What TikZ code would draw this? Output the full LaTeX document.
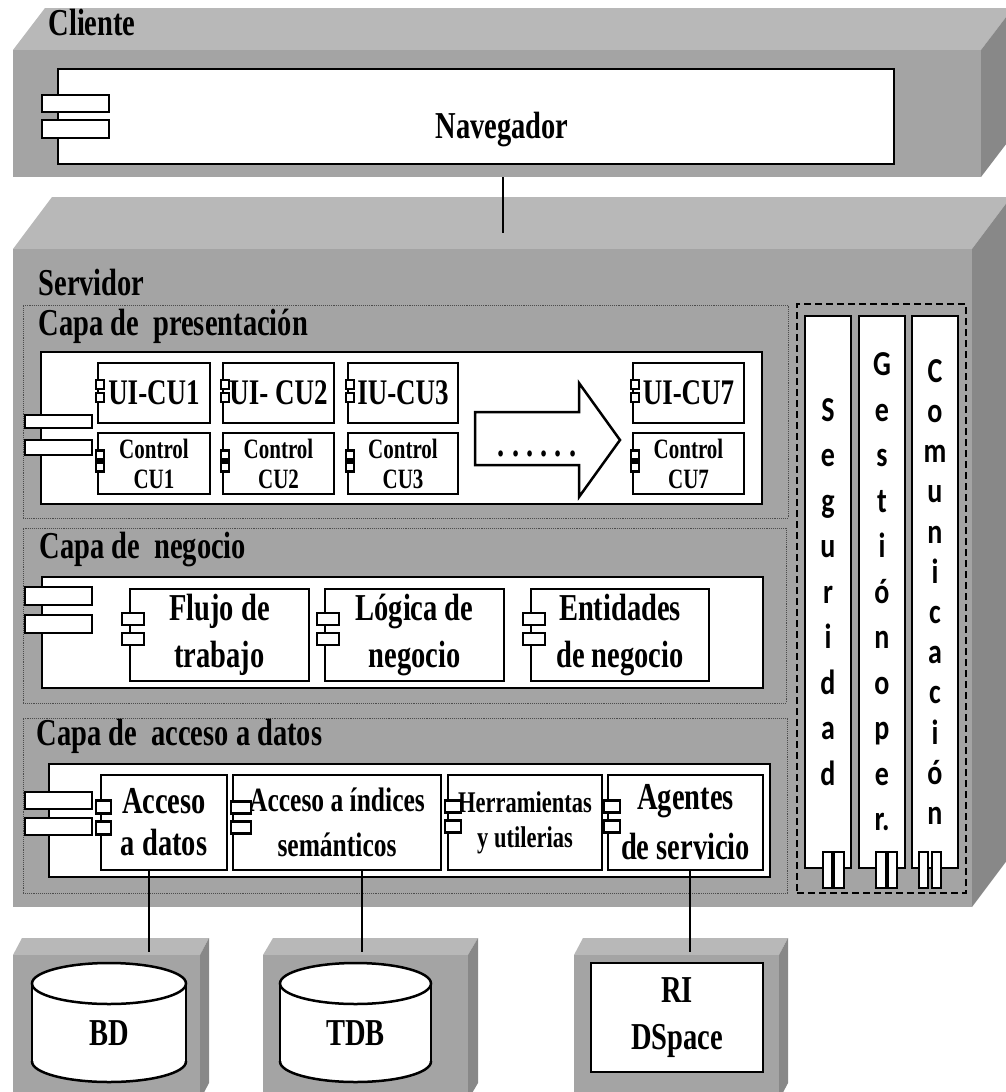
\documentclass[tikz,border=0pt]{standalone}
\usepackage{fontspec}
\usetikzlibrary{calc,fit}
\newfontfamily\tnr[FakeStretch=0.75]{Liberation Serif}
\newfontfamily\clb[FakeStretch=0.8]{Carlito}
\definecolor{frontg}{RGB}{164,164,164}
\definecolor{topg}{RGB}{184,184,184}
\definecolor{sideg}{RGB}{136,136,136}
\tikzset{
  lw/.style={line width=2.5pt},
  front/.style={fill=frontg, inner sep=0pt},
  box/.style={draw, line width=2.5pt, fill=white, inner sep=0pt, align=center},
  icon/.style={draw, line width=2.2pt, fill=white},
  layer/.style={draw=black!70, densely dotted, line width=0.9pt, inner sep=0pt},
  conn/.style={line width=2pt},
  lab/.style 2 args={font=\tnr\bfseries\fontsize{#1}{#2}\selectfont, align=center},
  colt/.style 2 args={font=\clb\bfseries\fontsize{#1}{#2}\selectfont, align=center},
}
% box node from corner coordinates: name x1 y1 x2 y2 style text
\newcommand\cbox[7]{%
  \node[box, #6, minimum width={#4-#2}, minimum height={#5-#3}] (#1) at ({(#2+#4)/2},{(#3+#5)/2}) {#7};
}
\newcommand\blockthreed[7]{% name x1 y1 x2 y2 dx dy
  \fill[topg] (#2,#3) -- ++(#6,-#7) -- ++({#4-#2},0) -- (#4,#3) -- cycle;
  \fill[sideg] (#4,#3) -- ++(#6,-#7) -- ++(0,{#5-#3}) -- (#4,#5) -- cycle;
  \node[front, minimum width={#4-#2}, minimum height={#5-#3}] (#1) at ({(#2+#4)/2},{(#3+#5)/2}) {};
}
\newcommand\smicon[6]{% node w h xoff ytop1 ytop2
  \draw[icon] ($(#1.west)+(#4,#5)$) rectangle ++(#2,#3);
  \draw[icon] ($(#1.west)+(#4,#6)$) rectangle ++(#2,#3);
}
\newcommand\dbcyl[4]{% name cx rx label
  \fill[white] (#2,1061.5) ellipse [x radius=#3, y radius=20.5];
  \fill[white] ({#2-#3},983.5) rectangle ({#2+#3},1061.5);
  \begin{scope}
    \clip ({#2-#3-5},1061.5) rectangle ({#2+#3+5},1091);
    \draw[lw] (#2,1061.5) ellipse [x radius=#3, y radius=20.5];
  \end{scope}
  \draw[lw] ({#2-#3},983.5) -- ({#2-#3},1061.5) ({#2+#3},983.5) -- ({#2+#3},1061.5);
  \draw[lw, fill=white] (#2,983.5) ellipse [x radius=#3, y radius=20.5];
  \node[lab={38}{38}] (#1) at (#2,1033) {#4};
}
\begin{document}
\begin{tikzpicture}[x=1pt,y=-1pt]
\useasboundingbox (0,0) rectangle (1006,1092);
\clip (0,0) rectangle (1006,1092);
\fill[white] (0,0) rectangle (1006,1092);

% ---------------- Cliente
\blockthreed{cliente}{13}{50}{981}{177}{32}{42}
\node[lab={38}{38}, anchor=base west] (clientelab) at (45,35) {Cliente};
\cbox{nav}{58}{69}{894}{164}{}{}
\node[lab={38}{38}] (navlab) at (502,130) {Navegador};
\draw[icon] (42,95) rectangle (109,112);
\draw[icon] (42,120) rectangle (109,138);

% ---------------- Servidor
\blockthreed{servidor}{13}{249}{972}{907}{39}{52}
\node[lab={38}{38}, anchor=base west] (servlab) at (35,295) {Servidor};
\coordinate (srvtop) at (503,233);
\draw[conn] (cliente.south -| srvtop) -- (srvtop);

% ---------------- Capa de presentacion
\node[layer, fit={(23,305) (788,518)}] (lpres) {};
\node[lab={38}{38}, anchor=base west] (lpreslab) at (35,335) {Capa de~ presentación};
\cbox{pres}{41}{352}{762}{504}{}{}
\draw[icon] (25,415) rectangle (92,428);
\draw[icon] (25,440) rectangle (92,455);

\cbox{ui1}{98}{363}{210}{423}{lab={36}{36}}{UI-CU1}
\cbox{ui2}{223}{363}{334}{423}{lab={36}{36}}{UI- CU2}
\cbox{ui3}{348}{363}{458}{423}{lab={36}{36}}{IU-CU3}
\cbox{ui7}{633}{363}{744}{423}{lab={36}{36}}{UI-CU7}
\cbox{c1}{98}{433}{210}{494}{lab={28}{30}}{Control\\CU1}
\cbox{c2}{223}{433}{334}{494}{lab={28}{30}}{Control\\CU2}
\cbox{c3}{348}{433}{458}{494}{lab={28}{30}}{Control\\CU3}
\cbox{c7}{633}{433}{744}{494}{lab={28}{30}}{Control\\CU7}
\smicon{ui1}{8}{9}{-1}{-13}{0}
\smicon{ui2}{8}{9}{-1}{-13}{0}
\smicon{ui3}{8}{9}{-1}{-13}{0}
\smicon{ui7}{8}{9}{-1}{-13}{0}
\smicon{c1}{8}{9}{-1}{-13}{-1}
\smicon{c2}{8}{9}{-1}{-13}{-1}
\smicon{c3}{8}{9}{-1}{-13}{-1}
\smicon{c7}{8}{9}{-1}{-13}{-1}
\draw[lw, fill=white] (475,412) -- (579,412) -- (579,383) -- (620,440) -- (579,497) -- (579,465) -- (475,465) -- cycle;
\node[lab={38}{38}, anchor=base] (dots) at (537,456) {.\ .\ .\ .\ .\ .};

% ---------------- Capa de negocio
\node[layer, fit={(23,528) (786,703)}] (lbiz) {};
\node[lab={38}{38}, anchor=base west] (lbizlab) at (36,558) {Capa de~ negocio};
\cbox{biz}{42}{577}{763}{688}{}{}
\draw[icon] (25,587) rectangle (92,605);
\draw[icon] (25,615) rectangle (92,633);
\cbox{flujo}{130}{589}{309}{681}{lab={38}{47}}{Flujo de\\trabajo}
\cbox{logica}{325}{589}{504}{681}{lab={38}{47}}{Lógica de\\negocio}
\cbox{entidades}{531}{589}{709}{681}{lab={38}{47}}{Entidades\\de negocio}
\smicon{flujo}{22}{12}{-7}{-22}{-2}
\smicon{logica}{22}{12}{-7}{-22}{-2}
\smicon{entidades}{22}{12}{-7}{-22}{-2}

% ---------------- Capa de acceso a datos
\node[layer, fit={(23,718) (787,893)}] (ldata) {};
\node[lab={38}{38}, anchor=base west] (ldatalab) at (33,745) {Capa de~ acceso a datos};
\cbox{data}{49}{764}{770}{877}{}{}
\draw[icon] (25,792) rectangle (92,809);
\draw[icon] (25,818) rectangle (92,835);
\cbox{adatos}{101}{775}{227}{870}{lab={38}{42}}{Acceso\\a datos}
\cbox{aindices}{233}{775}{441}{870}{lab={34}{45}}{Acceso a índices\\semánticos}
\cbox{herr}{448}{775}{602}{870}{lab={30}{35}}{Herramientas\\y utilerias}
\cbox{agentes}{608}{775}{763}{870}{lab={38}{50}}{Agentes\\de servicio}
\smicon{adatos}{15}{13}{-4}{-22}{-1}
\smicon{aindices}{20}{12}{-1}{-21}{-1}
\smicon{herr}{16}{12}{-2}{-22}{-2}
\smicon{agentes}{16}{12}{-3}{-22}{-2}

% ---------------- Transversal columns
\node[draw, line width=1.5pt, dash pattern=on 7pt off 4pt, inner sep=0pt, fit={(797,304) (966,893)}] (cross) {};
\cbox{seg}{805}{316}{851}{868}{colt={35}{45.5}}{S\\e\\g\\u\\r\\i\\d\\a\\d}
\cbox{ges}{859}{316}{905}{868}{colt={35}{45.5}}{G\\e\\s\\t\\i\\ó\\n\\o\\p\\e\\r.}
\cbox{com}{912}{316}{958}{868}{colt={35}{40.2}}{C\\o\\m\\u\\n\\i\\c\\a\\c\\i\\ó\\n}
\draw[icon, line width=2pt] (823,852) rectangle (832,888);
\draw[icon, line width=2pt] (834,852) rectangle (844,888);
\draw[icon, line width=2pt] (876,852) rectangle (886,888);
\draw[icon, line width=2pt] (888,852) rectangle (897,888);
\draw[icon, line width=2pt] (919,852) rectangle (928,888);
\draw[icon, line width=2pt] (932,852) rectangle (941,888);

% ---------------- Bottom nodes
\blockthreed{bdbox}{13}{955}{200}{1100}{9}{17}
\blockthreed{tdbbox}{263}{955}{468}{1100}{10}{17}
\blockthreed{ribox}{574}{955}{779}{1100}{9}{17}
\dbcyl{bd}{109}{77}{BD}
\dbcyl{tdb}{355.5}{75.5}{TDB}
\cbox{ri}{591}{963}{763}{1072}{lab={38}{47}}{RI\\DSpace}

% ---------------- Connectors
\coordinate (bdtop) at (149,952);
\coordinate (tdbtop) at (362,952);
\coordinate (ritop) at (690,952);
\draw[conn] (adatos.south -| bdtop) -- (bdtop);
\draw[conn] (aindices.south -| tdbtop) -- (tdbtop);
\draw[conn] (agentes.south -| ritop) -- (ritop);
\end{tikzpicture}
\end{document}
